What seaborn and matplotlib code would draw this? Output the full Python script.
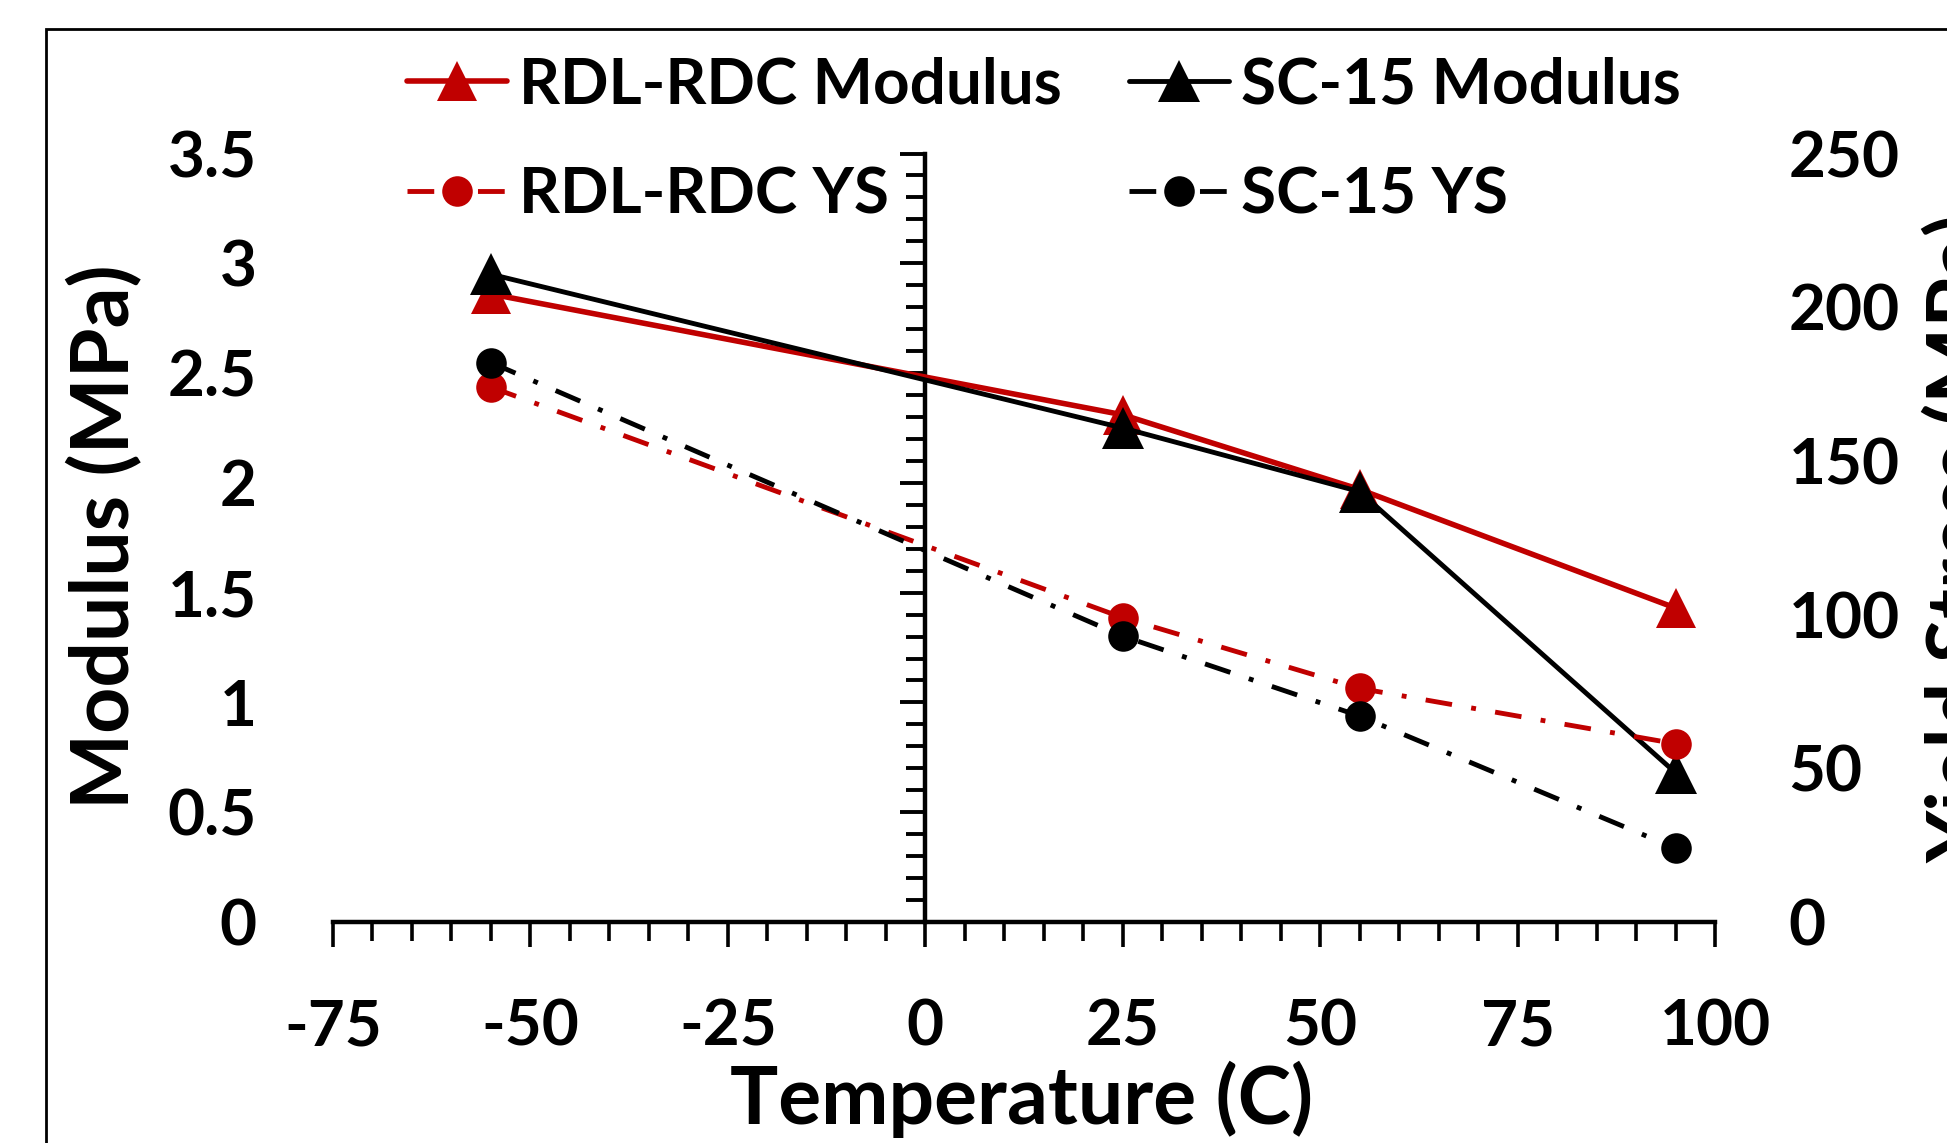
import numpy as np
import pandas as pd
import matplotlib
matplotlib.use("Agg")
import matplotlib.pyplot as plt
import seaborn as sns
from matplotlib.ticker import MultipleLocator
from matplotlib.patches import Rectangle

# ---------------- data ----------------
temperature = [-55, 25, 55, 95]
rdl_modulus = [2.86, 2.31, 1.97, 1.43]
sc15_modulus = [2.95, 2.25, 1.96, 0.68]
rdl_ys = [174, 99, 76, 58]
sc15_ys = [182, 93, 67, 24]

x_ticks = [-75, -50, -25, 0, 25, 50, 75, 100]
mod_ticks = [0, 0.5, 1, 1.5, 2, 2.5, 3, 3.5]
mod_tick_labels = ["0", "0.5", "1", "1.5", "2", "2.5", "3", "3.5"]
ys_ticks = [0, 50, 100, 150, 200, 250]

series_labels = ["RDL-RDC Modulus", "SC-15 Modulus", "RDL-RDC YS", "SC-15 YS"]

RED = "#C00000"
BLACK = "#000000"

sns.set_theme(style="white")
plt.rcParams["font.family"] = ["Lato", "DejaVu Sans"]
plt.rcParams["font.weight"] = "bold"
plt.rcParams["axes.unicode_minus"] = False
plt.rcParams["text.color"] = "black"
plt.rcParams["xtick.color"] = "black"
plt.rcParams["ytick.color"] = "black"

W, H = 1947, 1143
fig = plt.figure(figsize=(W / 100, H / 100), dpi=100)
fig.patch.set_facecolor("white")

ax_left, ax_right = 333 / W, 1715 / W
ax_top, ax_bot = 153.5 / H, 922 / H
ax = fig.add_axes([ax_left, 1 - ax_bot, ax_right - ax_left, ax_bot - ax_top])
ax2 = ax.twinx()

df_mod = pd.DataFrame({"T": temperature, "rdl": rdl_modulus, "sc": sc15_modulus})
df_ys = pd.DataFrame({"T": temperature, "rdl": rdl_ys, "sc": sc15_ys})

dashdot = (0, (5.5, 4.0, 1, 4.0))

sns.lineplot(data=df_mod, x="T", y="rdl", ax=ax, color=RED, marker="^",
             markersize=29, markeredgewidth=0, linewidth=4, legend=False)
sns.lineplot(data=df_mod, x="T", y="sc", ax=ax, color=BLACK, marker="^",
             markersize=30, markeredgewidth=0, linewidth=3.5, legend=False)
sns.lineplot(data=df_ys, x="T", y="rdl", ax=ax2, color=RED, marker="o",
             markersize=22, markeredgewidth=0, linewidth=3.5, linestyle=dashdot,
             legend=False)
sns.lineplot(data=df_ys, x="T", y="sc", ax=ax2, color=BLACK, marker="o",
             markersize=22, markeredgewidth=0, linewidth=3.5, linestyle=dashdot,
             legend=False)

h_rdl_mod, h_sc_mod = ax.get_lines()[0], ax.get_lines()[1]
h_rdl_ys, h_sc_ys = ax2.get_lines()[0], ax2.get_lines()[1]

# axes limits
ax.set_xlim(-75, 100)
ax.set_ylim(0, 3.5)
ax2.set_ylim(0, 250)
ax.set_xlabel("")
ax.set_ylabel("")
ax2.set_ylabel("")
ax.grid(False)
ax2.grid(False)
ax.patch.set_alpha(0)
ax2.patch.set_alpha(0)

for s in ["top", "right", "left"]:
    ax.spines[s].set_visible(False)
for s in ["top", "right", "left", "bottom"]:
    ax2.spines[s].set_visible(False)
ax.spines["bottom"].set_linewidth(3.2)
ax.spines["bottom"].set_color("black")

# x axis ticks
ax.set_xticks(x_ticks)
ax.set_xticklabels([str(v) for v in x_ticks])
ax.xaxis.set_minor_locator(MultipleLocator(5))
ax.tick_params(axis="x", which="major", bottom=True, length=18, width=2.6,
               direction="out", color="black", pad=37, labelsize=46,
               labelcolor="black")
ax.tick_params(axis="x", which="minor", bottom=True, length=14, width=2.6,
               direction="out", color="black")

# left tick labels (far left, no marks)
ax.set_yticks(mod_ticks)
ax.set_yticklabels(mod_tick_labels)
ax.tick_params(axis="y", which="both", left=False, length=0, pad=55,
               labelsize=46, labelcolor="black")

# right tick labels
ax2.set_yticks(ys_ticks)
ax2.set_yticklabels([str(v) for v in ys_ticks])
ax2.tick_params(axis="y", which="both", right=False, length=0, pad=53,
                labelsize=46, labelcolor="black")

# vertical axis line crossing at x = 0
sec = ax.secondary_yaxis(75 / 175)
sec.set_yticks(mod_ticks)
sec.set_yticklabels([])
sec.yaxis.set_minor_locator(MultipleLocator(0.1))
sec.tick_params(axis="y", which="major", left=True, length=18, width=2.8,
                direction="out", color="black")
sec.tick_params(axis="y", which="minor", left=True, length=14, width=2.8,
                direction="out", color="black")
sec.spines["left"].set_linewidth(3.2)
sec.spines["left"].set_color("black")

for lab in ax.get_xticklabels() + ax.get_yticklabels() + ax2.get_yticklabels():
    lab.set_fontweight("bold")
    lab.set_color("black")

# axis titles
fig.text(105 / W, 1 - 537 / H, "Modulus (MPa)", rotation=90, ha="center",
         va="center", fontsize=58, fontweight="bold", color="black")
fig.text(1022 / W, 1 - 1124 / H, "Temperature (C)", ha="center",
         va="baseline", fontsize=58, fontweight="bold", color="black")
fig.text(1924 / W, 1 - 538 / H, "Yield Stress (MPa)", rotation=90, ha="left",
         va="center", fontsize=58, fontweight="bold", color="black")

# legend
leg = fig.legend(handles=[h_rdl_mod, h_rdl_ys, h_sc_mod, h_sc_ys],
                 labels=[series_labels[0], series_labels[2], series_labels[1], series_labels[3]],
                 ncol=2, loc="upper left", bbox_to_anchor=(407 / W, 1 - 56 / H),
                 frameon=False, handlelength=1.56, handletextpad=0.19,
                 columnspacing=1.06, labelspacing=0.84, borderpad=0, borderaxespad=0,
                 prop={"weight": "bold", "size": 46}, labelcolor="black")

# outer chart border (cropped at right and bottom)
fig.add_artist(Rectangle((46 / W, -1), 5, 1 + (1 - 28.7 / H), transform=fig.transFigure,
                         fill=False, linewidth=2, edgecolor="black"))

fig.savefig("out.png", dpi=100, facecolor="white")
